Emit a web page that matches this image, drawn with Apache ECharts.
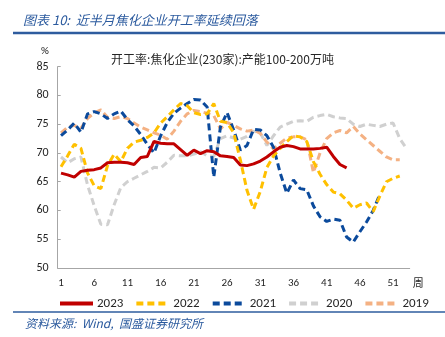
<!DOCTYPE html>
<html>
<head>
<meta charset="utf-8">
<script src="https://cdn.jsdelivr.net/npm/echarts@6/dist/echarts.min.js"></script>
<style>
  html, body { margin: 0; padding: 0; background: #fff; }
  #chart { width: 445px; height: 337px; }
</style>
</head>
<body>
<div id="chart"></div>
<script>
// Weekly operating rate of coking plants (230 firms, capacity 1–2 Mt), %
const weeks = [1,2,3,4,5,6,7,8,9,10,11,12,13,14,15,16,17,18,19,20,21,22,23,24,25,26,27,28,29,30,31,32,33,34,35,36,37,38,39,40,41,42,43,44,45,46,47,48,49,50,51,52,53];

const y2023 = [66.5,66.2,65.8,66.8,67.0,67.1,67.4,68.3,68.4,68.4,68.3,68.0,69.2,69.4,72.0,71.7,71.6,71.6,70.6,69.6,70.5,69.9,70.4,70.2,69.5,69.4,69.2,67.9,67.8,68.1,68.6,69.3,70.2,71.0,71.3,71.1,70.7,70.7,70.7,70.8,71.0,69.4,68.0,67.4];

const y2022 = [67.6,69.5,71.5,70.8,66.5,64.3,63.8,67.8,69.8,68.5,70.8,71.9,72.2,72.7,73.5,75.2,76.3,77.5,78.6,78.2,77.0,76.7,76.8,78.6,75.5,75.3,73.5,68.8,63.5,60.2,63.3,67.5,69.5,70.8,72.0,73.0,72.8,72.0,68.5,66.3,64.5,63.2,62.9,61.8,60.4,61.0,61.3,59.8,62.5,65.0,65.6,66.0];

const y2021 = [73.0,74.0,75.2,73.6,76.8,77.2,76.8,76.0,76.8,77.3,75.8,74.7,73.2,71.5,70.0,73.0,75.3,76.9,77.8,78.6,79.3,79.2,78.0,65.8,74.5,77.0,74.0,70.5,71.3,74.1,74.0,73.0,71.0,66.5,63.0,65.3,63.8,63.6,60.8,58.9,58.1,58.5,58.3,55.4,54.5,56.3,58.0,60.0,62.8];

const y2020 = [69.3,68.3,69.0,69.3,64.4,60.8,57.6,57.5,61.0,64.0,65.0,65.6,66.2,66.8,67.5,67.4,68.4,69.6,69.5,69.5,69.8,70.2,69.5,69.4,72.5,73.0,72.6,72.4,72.9,73.8,73.5,71.3,73.0,74.5,75.0,75.5,75.6,75.5,76.2,76.5,76.7,76.3,76.1,76.0,75.0,74.6,75.0,74.8,74.6,75.0,75.2,72.5,70.8];

const y2019 = [73.5,74.5,74.8,74.3,76.0,77.0,77.5,76.2,76.0,76.3,76.0,75.2,74.5,74.0,73.5,73.1,72.4,73.8,75.5,76.8,77.4,77.2,76.9,76.5,74.2,75.3,74.8,74.2,73.8,74.0,73.4,71.9,70.7,71.7,72.6,72.8,72.8,72.3,66.6,70.0,72.5,73.5,73.9,73.5,74.6,73.3,72.3,71.3,70.3,69.3,68.8,68.8];

const yTicks = { min: 50, max: 85, step: 5 };

const seriesDefs = [
  { name: '2023', data: y2023, color: '#C00000', type: 'solid', z: 7 },
  { name: '2022', data: y2022, color: '#FFC000', type: [7, 4], z: 6 },
  { name: '2021', data: y2021, color: '#0B4A9C', type: [7, 4], z: 5 },
  { name: '2020', data: y2020, color: '#D0D0D0', type: [7, 4], z: 3 },
  { name: '2019', data: y2019, color: '#F4B183', type: [7, 4], z: 4 }
];

const chart = echarts.init(document.getElementById('chart'), null, { renderer: 'canvas' });

const cjk = '"Noto Sans CJK SC", "Noto Sans", sans-serif';
const latin = 'Calibri, "Liberation Sans", "Noto Sans", sans-serif';

chart.setOption({
  backgroundColor: '#ffffff',
  animation: false,
  title: [
    {
      text: '图表 10:  近半月焦化企业开工率延续回落',
      left: 18, top: 9,
      textStyle: { fontFamily: cjk, fontSize: 13, fontWeight: 'normal', fontStyle: 'italic', color: '#2B5A9E' }
    },
    {
      text: '开工率:焦化企业(230家):产能100-200万吨',
      left: 'center', top: 48,
      textStyle: { fontFamily: cjk, fontSize: 12, fontWeight: 'normal', color: '#262626' }
    },
    {
      text: '%',
      left: 36, top: 41,
      textStyle: { fontFamily: latin, fontSize: 11, fontWeight: 'normal', color: '#262626' }
    },
    {
      text: '资料来源:  Wind,  国盛证券研究所',
      left: 20, top: 312,
      textStyle: { fontFamily: cjk, fontSize: 12, fontWeight: 'normal', fontStyle: 'italic', color: '#2B5A9E' }
    }
  ],
  graphic: [
    { type: 'line', shape: { x1: 13, y1: 33, x2: 445, y2: 33 }, style: { stroke: '#2E5C9E', lineWidth: 2.5 } },
    { type: 'line', shape: { x1: 13, y1: 312, x2: 445, y2: 312 }, style: { stroke: '#2E5C9E', lineWidth: 1.5 } }
  ],
  legend: {
    left: 53, top: 292,
    itemWidth: 33, itemHeight: 10, itemGap: 11,
    itemStyle: { opacity: 0 },
    lineStyle: { width: 4 },
    textStyle: { fontFamily: latin, fontSize: 13, color: '#262626', padding: [0, 0, 0, -1] },
    data: seriesDefs.map(s => s.name)
  },
  grid: { left: 57.7, right: 35.3, top: 66.7, bottom: 69, containLabel: false },
  xAxis: {
    type: 'category',
    data: weeks,
    boundaryGap: true,
    name: '周',
    nameLocation: 'end',
    nameGap: 3,
    nameTextStyle: { fontFamily: cjk, fontSize: 11, color: '#262626', verticalAlign: 'top', padding: [9, 0, 0, 0] },
    axisLine: { lineStyle: { color: '#A6A6A6', width: 1 } },
    axisTick: { show: false },
    axisLabel: { interval: 4, margin: 10, fontFamily: latin, fontSize: 11, color: '#262626' },
    splitLine: { show: false }
  },
  yAxis: {
    type: 'value',
    min: yTicks.min, max: yTicks.max, interval: yTicks.step,
    axisLine: { show: true, lineStyle: { color: '#A6A6A6', width: 1 } },
    axisTick: { show: true, inside: true, length: 3, lineStyle: { color: '#A6A6A6' } },
    axisLabel: { margin: 9, fontFamily: latin, fontSize: 12, color: '#262626' },
    splitLine: { show: false }
  },
  series: seriesDefs.map(s => ({
    name: s.name,
    type: 'line',
    data: s.data,
    z: s.z,
    symbol: 'none',
    smooth: false,
    color: s.color,
    lineStyle: { color: s.color, width: 3, type: s.type, cap: 'butt' }
  }))
});
</script>
</body>
</html>
